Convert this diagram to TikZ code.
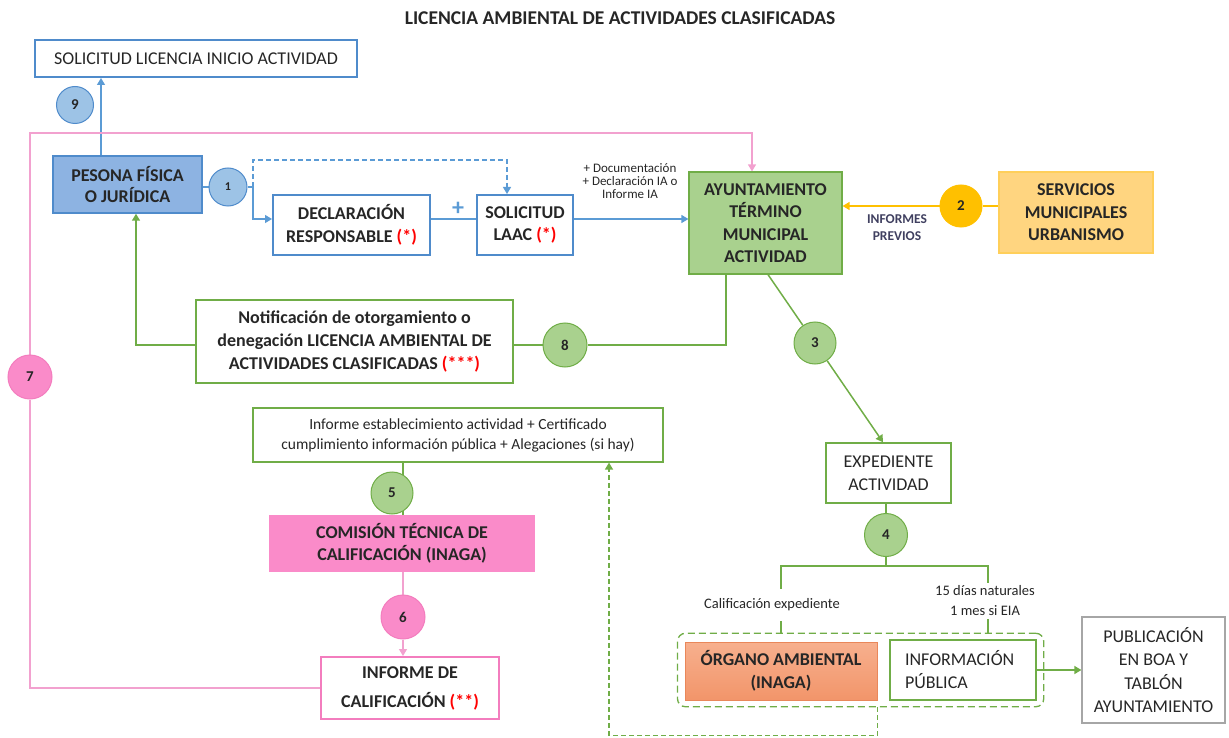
\documentclass[tikz,border=0pt]{standalone}
\usepackage{fontspec}
\setmainfont{Carlito}
\usetikzlibrary{arrows.meta,backgrounds,fit}
\definecolor{txt}{HTML}{262626}
\definecolor{navytxt}{HTML}{404060}
\definecolor{bluebd}{HTML}{4F8BCB}
\definecolor{blueln}{HTML}{5B9BD5}
\definecolor{bluefill}{HTML}{8DB3E2}
\definecolor{bluenumfill}{HTML}{9DC3E6}
\definecolor{greenbd}{HTML}{70AD47}
\definecolor{greendark}{HTML}{5E9A3C}
\definecolor{greenfill}{HTML}{A9D18E}
\definecolor{pinkbd}{HTML}{F37DBE}
\definecolor{pinkln}{HTML}{F2A1CF}
\definecolor{pinkfill}{HTML}{FA8BC9}
\definecolor{orangebd}{HTML}{FFC000}
\definecolor{orangefill}{HTML}{FFD580}
\definecolor{salmontop}{HTML}{F7B08E}
\definecolor{salmonbot}{HTML}{F2956A}
\definecolor{salmonbd}{HTML}{E9875A}
\definecolor{greybd}{HTML}{A6A6A6}
\definecolor{asterisk}{HTML}{FF0000}
\newcommand{\redmark}[1]{\textcolor{asterisk}{#1}}
\begin{document}
\begin{tikzpicture}[x=1pt,y=-1pt,>={Triangle[width=8pt,length=7pt]},
	every node/.style={text=txt},
	boxtext/.style={align=center,inner sep=0pt,font=\fontsize{18}{22.5}\selectfont\bfseries},
	thintext/.style={align=center,inner sep=0pt,font=\fontsize{18}{23}\selectfont},
	smalltext/.style={align=center,inner sep=1pt,font=\fontsize{13}{13}\selectfont},
	stepnum/.style={circle,draw,line width=1pt,inner sep=0pt,minimum size=42pt,font=\fontsize{15}{15}\selectfont\bfseries},
	bluenum/.style={stepnum,fill=bluenumfill,draw=bluebd,minimum size=37pt},
	greennum/.style={stepnum,fill=greenfill,draw=greenbd},
	pinknum/.style={stepnum,fill=pinkfill,draw=pinkbd,minimum size=44pt},
	orangenum/.style={stepnum,fill=orangebd,draw=orangebd},
	blueline/.style={draw=blueln,line width=1.3pt},
	greenline/.style={draw=greenbd,line width=1.5pt},
	pinkline/.style={draw=pinkln,line width=1.3pt},
	orangeline/.style={draw=orangebd,line width=1.3pt}]
	\useasboundingbox (0,0) rectangle (1229,738);

	\node[font=\fontsize{19.5}{19.5}\selectfont\bfseries] (title) at (620,18) {LICENCIA AMBIENTAL DE ACTIVIDADES CLASIFICADAS};
	\node[thintext,draw=bluebd,line width=2pt,minimum width=322pt,minimum height=37pt] (sol) at (196,58.5) {SOLICITUD LICENCIA INICIO ACTIVIDAD};
	\node[bluenum] (c9) at (75,105) {9};
	\node[boxtext,draw=bluebd,fill=bluefill,line width=1.5pt,minimum width=149pt,minimum height=57pt,font=\fontsize{18}{20.7}\selectfont\bfseries] (pers) at (127.5,184.5) {PESONA FÍSICA\\O JURÍDICA};
	\node[bluenum,minimum size=38pt,font=\fontsize{12}{12}\selectfont\bfseries] (c1) at (228,187) {1};
	\node[boxtext,draw=bluebd,line width=2pt,minimum width=157pt,minimum height=60pt] (decl) at (351.5,225) {DECLARACIÓN\\RESPONSABLE \redmark{(*)}};
	\node[boxtext,draw=bluebd,line width=2pt,minimum width=96pt,minimum height=60pt] (laac) at (525,225) {SOLICITUD\\LAAC \redmark{(*)}};
	\node[text=blueln,font=\fontsize{24}{24}\selectfont\bfseries] (plus) at (458,209) {+};
	\node[smalltext] (doc) at (630,181) {+ Documentación\\+ Declaración IA o\\Informe IA};
	\node[boxtext,draw=greenbd,fill=greenfill,line width=1.2pt,minimum width=153pt,minimum height=102pt] (ayto) at (765.5,223) {AYUNTAMIENTO\\TÉRMINO\\MUNICIPAL\\ACTIVIDAD};
	\node[orangenum] (c2) at (961,206) {2};
	\node[boxtext,draw=orangefill!70!orangebd,fill=orangefill,line width=1.2pt,minimum width=154pt,minimum height=81pt] (serv) at (1076,212.5) {SERVICIOS\\MUNICIPALES\\URBANISMO};
	\node[smalltext,text=navytxt,font=\fontsize{13.5}{17}\selectfont\bfseries] (prev) at (897,228) {INFORMES\\PREVIOS};
	\node[pinknum] (c7) at (30,377) {7};
	\node[boxtext,draw=greenbd,line width=2.5pt,minimum width=317pt,minimum height=83pt,font=\fontsize{18}{23.3}\selectfont\bfseries] (noti) at (354.5,341.5) {Notificación de otorgamiento o\\denegación LICENCIA AMBIENTAL DE\\ACTIVIDADES CLASIFICADAS \redmark{(***)}};
	\node[greennum,minimum size=44pt] (c8) at (565,345) {8};
	\node[greennum] (c3) at (815,343) {3};
	\node[thintext,draw=greenbd,line width=1.5pt,minimum width=125pt,minimum height=60pt] (exp) at (888.5,473) {EXPEDIENTE\\ACTIVIDAD};
	\node[greennum,minimum size=43pt] (c4) at (886,535) {4};
	\node[thintext,draw=greenbd,line width=1.2pt,minimum width=410pt,minimum height=54pt,font=\fontsize{15.5}{20}\selectfont] (inf) at (458,435) {Informe establecimiento actividad + Certificado\\cumplimiento información pública + Alegaciones (si hay)};
	\node[greennum] (c5) at (392,493) {5};
	\node[boxtext,fill=pinkfill,minimum width=266pt,minimum height=57pt] (com) at (402,543.5) {COMISIÓN TÉCNICA DE\\CALIFICACIÓN (INAGA)};
	\node[pinknum] (c6) at (403,617) {6};
	\node[boxtext,draw=pinkbd,line width=2pt,minimum width=178pt,minimum height=62pt,font=\fontsize{18}{29}\selectfont\bfseries] (cal) at (410,688) {INFORME DE\\CALIFICACIÓN \redmark{(**)}};
	\node[boxtext,draw=salmonbd,line width=1pt,top color=salmontop,bottom color=salmonbot,minimum width=192pt,minimum height=58pt] (org) at (781,671) {ÓRGANO AMBIENTAL\\(INAGA)};
	\node[thintext,align=left,draw=greenbd,line width=1.5pt,text width=116pt,inner xsep=15pt,minimum height=60pt] (infpub) at (963,670) {INFORMACIÓN\\PÚBLICA};
	\node[thintext,draw=greybd,line width=1.2pt,minimum width=143pt,minimum height=106pt,font=\fontsize{18}{23.5}\selectfont] (pub) at (1153.5,670) {PUBLICACIÓN\\EN BOA Y\\TABLÓN\\AYUNTAMIENTO};

	\begin{scope}[on background layer]
		\node[fit=(org)(infpub),inner xsep=7pt,inner ysep=6pt,draw=greenbd,line width=1.3pt,dash pattern=on 7pt off 4pt,rounded corners=8pt] (grp) {};
		\coordinate (split) at (253,187);
		\coordinate (pinkcorner) at (30,133);
		\coordinate (forkr) at (988,566);

		\draw[->,blueline] ([xshift=-26.5pt]pers.north) -- ([xshift=-26.5pt]pers.north |- sol.south);
		\draw[blueline] (pers.east |- c1) -- (c1);
		\draw[blueline] (c1) -- (split);
		\draw[->,blueline] (split) |- ([yshift=6pt]decl.west);
		\draw[->,blueline,dash pattern=on 5pt off 3pt] (split) -- ++(0,-27) -| ([xshift=-18pt]laac.north);
		\draw[blueline] ([yshift=6pt]decl.east) -- ([yshift=6pt]laac.west);
		\draw[->,blueline] ([yshift=6pt]laac.east) -- ([yshift=6pt]laac.east -| ayto.west);
		\draw[orangeline] (serv.west |- c2) -- (c2);
		\draw[->,orangeline] (c2) -- (c2 -| ayto.east);
		\draw[pinkline] (cal.west) -| (c7);
		\draw[->,pinkline] (c7) -- (pinkcorner) -| ([xshift=-13.5pt]ayto.north);
		\draw[greenline] ([xshift=-39.5pt]ayto.south) |- (c8);
		\draw[greenline] (c8) -- (c8 -| noti.east);
		\draw[->,greenline] (noti.west |- c8) -| ([xshift=8.5pt]pers.south);
		\draw[greenline] ([xshift=2.5pt]ayto.south) -- (c3);
		\draw[->,greenline] (c3) -- ([xshift=-5.5pt]exp.north);
		\draw[greenline] (c4 |- exp.south) -- (c4);
		\draw[greenline] (c4) -- (c4 |- forkr);
		\draw[greenline] (org.north |- grp.north) |- (forkr) -- (forkr |- grp.north);
		\draw[->,greenline] (infpub.east) -- (pub.west);
		\draw[->,greenline,dash pattern=on 5pt off 3pt] (org.south east |- grp.south) -- ++(0,28) -| ([xshift=151pt]inf.south);
		\draw[greenline] ([xshift=-55pt]inf.south) -- ([xshift=-55pt]inf.south |- com.north);
		\draw[pinkline] (com.south -| c6) -- (c6);
		\draw[->,pinkline] (c6) -- (c6 |- cal.north);
	\end{scope}

	\node[smalltext,fill=white,inner ysep=10pt,font=\fontsize{14.5}{20}\selectfont] (lcal) at (772,605) {Calificación expediente};
	\node[smalltext,fill=white,inner ysep=3pt,font=\fontsize{14.5}{20}\selectfont] (ldias) at (985,601) {15 días naturales\\1 mes si EIA};
\end{tikzpicture}
\end{document}
